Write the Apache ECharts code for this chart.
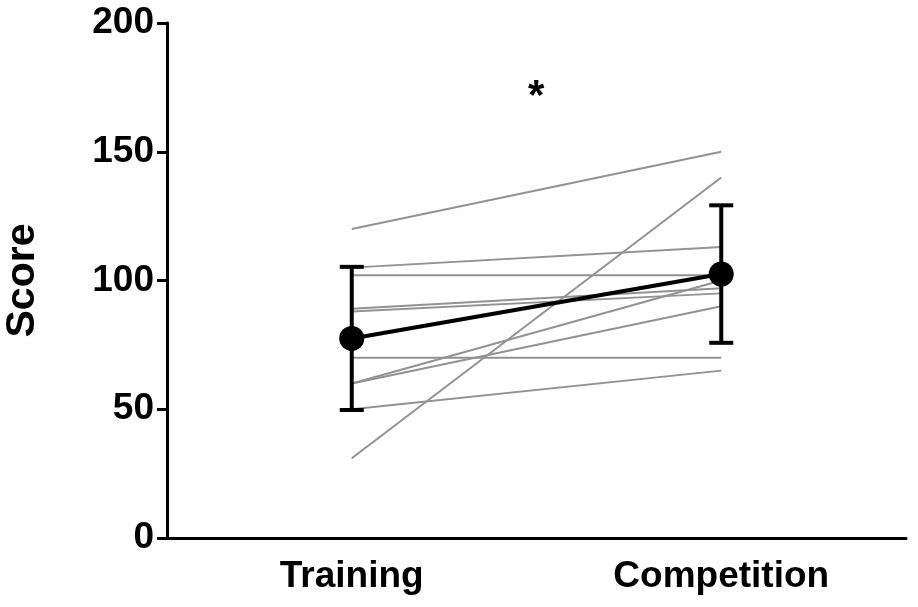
<!DOCTYPE html>
<html>
<head>
<meta charset="utf-8">
<script src="https://cdn.jsdelivr.net/npm/echarts@6/dist/echarts.min.js"></script>
<style>
  html, body { margin: 0; padding: 0; background: #fff; }
  #main { width: 918px; height: 607px; }
</style>
</head>
<body>
<div id="main"></div>
<script>
// Data
var categories = ['Training', 'Competition'];
// one entry per subject: score in training, score in competition
var trainingScores    = [120, 105, 102, 89, 88, 70, 60, 60, 50, 31];
var competitionScores = [150, 113, 102, 97, 95, 70, 100, 90, 65, 140];
var meanScores = [77.5, 102.5];
var sdScores = [27.8, 26.7];
var yTicks = [0, 50, 100, 150, 200];

var myChart = echarts.init(document.getElementById('main'));

var fontFamily = '"Liberation Sans", Arial, Helvetica, sans-serif';

var series = [];

// grey subject lines
for (var i = 0; i < trainingScores.length; i++) {
	series.push({
		name: 'subject' + (i + 1),
		type: 'line',
		symbol: 'none',
		silent: true,
		z: 2,
		lineStyle: {
			color: '#929292',
			width: 2
		},
		data: [trainingScores[i], competitionScores[i]]
	});
}

// error bars (mean +/- SD)
var errData = [];
for (var j = 0; j < categories.length; j++) {
	errData.push([j, meanScores[j] - sdScores[j], meanScores[j] + sdScores[j]]);
}
series.push({
	name: 'sd',
	type: 'custom',
	z: 4,
	silent: true,
	renderItem: function(params, api) {
		var lo = api.coord([api.value(0), api.value(1)]);
		var hi = api.coord([api.value(0), api.value(2)]);
		var half = 12;
		var style = { stroke: '#000', lineWidth: 4 };
		return {
			type: 'group',
			children: [{
				type: 'line',
				shape: { x1: lo[0], y1: lo[1], x2: hi[0], y2: hi[1] },
				style: style
			}, {
				type: 'line',
				shape: { x1: lo[0] - half, y1: lo[1], x2: lo[0] + half, y2: lo[1] },
				style: style
			}, {
				type: 'line',
				shape: { x1: hi[0] - half, y1: hi[1], x2: hi[0] + half, y2: hi[1] },
				style: style
			}]
		};
	},
	encode: { x: 0, y: [1, 2] },
	data: errData
});

// mean line
series.push({
	name: 'mean',
	type: 'line',
	symbol: 'circle',
	symbolSize: 25,
	z: 5,
	silent: true,
	itemStyle: { color: '#000' },
	lineStyle: { color: '#000', width: 4 },
	data: meanScores
});

var option = {
	backgroundColor: '#fff',
	animation: false,
	grid: {
		left: 167,
		right: 12,
		top: 23,
		bottom: 69,
		containLabel: false,
		outerBoundsMode: 'none'
	},
	xAxis: {
		type: 'category',
		data: categories,
		boundaryGap: true,
		axisLine: {
			lineStyle: { color: '#000', width: 3 }
		},
		axisTick: {
			alignWithLabel: true,
			length: 10,
			lineStyle: { color: '#000', width: 3 }
		},
		axisLabel: {
			color: '#000',
			fontSize: 37,
			fontWeight: 'bold',
			fontFamily: fontFamily,
			margin: 20
		}
	},
	yAxis: {
		type: 'value',
		min: yTicks[0],
		max: yTicks[yTicks.length - 1],
		interval: 50,
		name: 'Score',
		nameLocation: 'middle',
		nameGap: 124,
		nameTextStyle: {
			color: '#000',
			fontSize: 41,
			fontWeight: 'bold',
			fontFamily: fontFamily
		},
		axisLine: {
			show: true,
			lineStyle: { color: '#000', width: 3 }
		},
		axisTick: {
			show: true,
			length: 10,
			lineStyle: { color: '#000', width: 3 }
		},
		splitLine: { show: false },
		axisLabel: {
			color: '#000',
			fontSize: 37,
			fontWeight: 'bold',
			fontFamily: fontFamily,
			margin: 13
		}
	},
	graphic: [{
		type: 'text',
		left: 528,
		top: 76,
		style: {
			text: '*',
			fill: '#000',
			font: 'bold 42px ' + fontFamily
		}
	}],
	series: series
};

myChart.setOption(option);
</script>
</body>
</html>
